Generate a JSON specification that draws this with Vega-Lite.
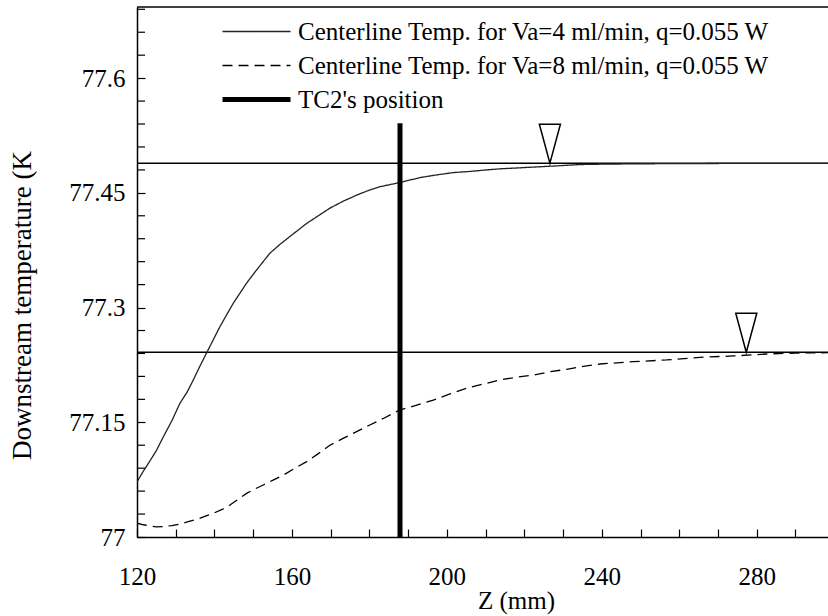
{
  "$schema": "https://vega.github.io/schema/vega-lite/v6.json",
  "autosize": "none",
  "padding": {"left": 137, "top": 7, "right": 0, "bottom": 79},
  "width": 691,
  "height": 530,
  "background": "white",
  "config": {"view": {"stroke": null}, "font": "Liberation Serif"},
  "datasets": {
    "curves": [
      {"z": 120, "T": 77.072, "series": "Centerline Temp. for Va=4 ml/min, q=0.055 W"},
      {"z": 121.5, "T": 77.085, "series": "Centerline Temp. for Va=4 ml/min, q=0.055 W"},
      {"z": 123.4, "T": 77.1, "series": "Centerline Temp. for Va=4 ml/min, q=0.055 W"},
      {"z": 125, "T": 77.113, "series": "Centerline Temp. for Va=4 ml/min, q=0.055 W"},
      {"z": 126.8, "T": 77.131, "series": "Centerline Temp. for Va=4 ml/min, q=0.055 W"},
      {"z": 129, "T": 77.152, "series": "Centerline Temp. for Va=4 ml/min, q=0.055 W"},
      {"z": 131.1, "T": 77.175, "series": "Centerline Temp. for Va=4 ml/min, q=0.055 W"},
      {"z": 133, "T": 77.19, "series": "Centerline Temp. for Va=4 ml/min, q=0.055 W"},
      {"z": 134.5, "T": 77.205, "series": "Centerline Temp. for Va=4 ml/min, q=0.055 W"},
      {"z": 136.3, "T": 77.224, "series": "Centerline Temp. for Va=4 ml/min, q=0.055 W"},
      {"z": 138, "T": 77.241, "series": "Centerline Temp. for Va=4 ml/min, q=0.055 W"},
      {"z": 139.7, "T": 77.258, "series": "Centerline Temp. for Va=4 ml/min, q=0.055 W"},
      {"z": 141.4, "T": 77.275, "series": "Centerline Temp. for Va=4 ml/min, q=0.055 W"},
      {"z": 143.2, "T": 77.291, "series": "Centerline Temp. for Va=4 ml/min, q=0.055 W"},
      {"z": 144.9, "T": 77.306, "series": "Centerline Temp. for Va=4 ml/min, q=0.055 W"},
      {"z": 146.6, "T": 77.319, "series": "Centerline Temp. for Va=4 ml/min, q=0.055 W"},
      {"z": 148.3, "T": 77.332, "series": "Centerline Temp. for Va=4 ml/min, q=0.055 W"},
      {"z": 151.3, "T": 77.352, "series": "Centerline Temp. for Va=4 ml/min, q=0.055 W"},
      {"z": 154.3, "T": 77.371, "series": "Centerline Temp. for Va=4 ml/min, q=0.055 W"},
      {"z": 157, "T": 77.383, "series": "Centerline Temp. for Va=4 ml/min, q=0.055 W"},
      {"z": 159.5, "T": 77.393, "series": "Centerline Temp. for Va=4 ml/min, q=0.055 W"},
      {"z": 163.8, "T": 77.41, "series": "Centerline Temp. for Va=4 ml/min, q=0.055 W"},
      {"z": 166.8, "T": 77.42, "series": "Centerline Temp. for Va=4 ml/min, q=0.055 W"},
      {"z": 169.8, "T": 77.43, "series": "Centerline Temp. for Va=4 ml/min, q=0.055 W"},
      {"z": 173.2, "T": 77.439, "series": "Centerline Temp. for Va=4 ml/min, q=0.055 W"},
      {"z": 176.7, "T": 77.447, "series": "Centerline Temp. for Va=4 ml/min, q=0.055 W"},
      {"z": 179.7, "T": 77.453, "series": "Centerline Temp. for Va=4 ml/min, q=0.055 W"},
      {"z": 182.7, "T": 77.458, "series": "Centerline Temp. for Va=4 ml/min, q=0.055 W"},
      {"z": 187.9, "T": 77.4635, "series": "Centerline Temp. for Va=4 ml/min, q=0.055 W"},
      {"z": 193.1, "T": 77.47, "series": "Centerline Temp. for Va=4 ml/min, q=0.055 W"},
      {"z": 197.4, "T": 77.4735, "series": "Centerline Temp. for Va=4 ml/min, q=0.055 W"},
      {"z": 201.7, "T": 77.4765, "series": "Centerline Temp. for Va=4 ml/min, q=0.055 W"},
      {"z": 206, "T": 77.478, "series": "Centerline Temp. for Va=4 ml/min, q=0.055 W"},
      {"z": 210.3, "T": 77.48, "series": "Centerline Temp. for Va=4 ml/min, q=0.055 W"},
      {"z": 214, "T": 77.4815, "series": "Centerline Temp. for Va=4 ml/min, q=0.055 W"},
      {"z": 218, "T": 77.4825, "series": "Centerline Temp. for Va=4 ml/min, q=0.055 W"},
      {"z": 223.6, "T": 77.484, "series": "Centerline Temp. for Va=4 ml/min, q=0.055 W"},
      {"z": 229.2, "T": 77.4855, "series": "Centerline Temp. for Va=4 ml/min, q=0.055 W"},
      {"z": 234.4, "T": 77.487, "series": "Centerline Temp. for Va=4 ml/min, q=0.055 W"},
      {"z": 240, "T": 77.4875, "series": "Centerline Temp. for Va=4 ml/min, q=0.055 W"},
      {"z": 250, "T": 77.488, "series": "Centerline Temp. for Va=4 ml/min, q=0.055 W"},
      {"z": 260, "T": 77.4882, "series": "Centerline Temp. for Va=4 ml/min, q=0.055 W"},
      {"z": 270, "T": 77.4884, "series": "Centerline Temp. for Va=4 ml/min, q=0.055 W"},
      {"z": 280, "T": 77.4885, "series": "Centerline Temp. for Va=4 ml/min, q=0.055 W"},
      {"z": 290, "T": 77.4886, "series": "Centerline Temp. for Va=4 ml/min, q=0.055 W"},
      {"z": 298.4, "T": 77.4886, "series": "Centerline Temp. for Va=4 ml/min, q=0.055 W"},
      {"z": 120, "T": 77.018, "series": "Centerline Temp. for Va=8 ml/min, q=0.055 W"},
      {"z": 121.7, "T": 77.016, "series": "Centerline Temp. for Va=8 ml/min, q=0.055 W"},
      {"z": 123.4, "T": 77.0144, "series": "Centerline Temp. for Va=8 ml/min, q=0.055 W"},
      {"z": 125, "T": 77.0132, "series": "Centerline Temp. for Va=8 ml/min, q=0.055 W"},
      {"z": 126.8, "T": 77.0135, "series": "Centerline Temp. for Va=8 ml/min, q=0.055 W"},
      {"z": 129, "T": 77.015, "series": "Centerline Temp. for Va=8 ml/min, q=0.055 W"},
      {"z": 131.1, "T": 77.017, "series": "Centerline Temp. for Va=8 ml/min, q=0.055 W"},
      {"z": 133.2, "T": 77.02, "series": "Centerline Temp. for Va=8 ml/min, q=0.055 W"},
      {"z": 135.4, "T": 77.023, "series": "Centerline Temp. for Va=8 ml/min, q=0.055 W"},
      {"z": 137.5, "T": 77.027, "series": "Centerline Temp. for Va=8 ml/min, q=0.055 W"},
      {"z": 139.7, "T": 77.031, "series": "Centerline Temp. for Va=8 ml/min, q=0.055 W"},
      {"z": 142, "T": 77.036, "series": "Centerline Temp. for Va=8 ml/min, q=0.055 W"},
      {"z": 144, "T": 77.0418, "series": "Centerline Temp. for Va=8 ml/min, q=0.055 W"},
      {"z": 146, "T": 77.049, "series": "Centerline Temp. for Va=8 ml/min, q=0.055 W"},
      {"z": 148.3, "T": 77.057, "series": "Centerline Temp. for Va=8 ml/min, q=0.055 W"},
      {"z": 150.5, "T": 77.063, "series": "Centerline Temp. for Va=8 ml/min, q=0.055 W"},
      {"z": 152.6, "T": 77.068, "series": "Centerline Temp. for Va=8 ml/min, q=0.055 W"},
      {"z": 155, "T": 77.074, "series": "Centerline Temp. for Va=8 ml/min, q=0.055 W"},
      {"z": 157.8, "T": 77.081, "series": "Centerline Temp. for Va=8 ml/min, q=0.055 W"},
      {"z": 160.8, "T": 77.09, "series": "Centerline Temp. for Va=8 ml/min, q=0.055 W"},
      {"z": 163.8, "T": 77.0985, "series": "Centerline Temp. for Va=8 ml/min, q=0.055 W"},
      {"z": 166.8, "T": 77.109, "series": "Centerline Temp. for Va=8 ml/min, q=0.055 W"},
      {"z": 169.8, "T": 77.12, "series": "Centerline Temp. for Va=8 ml/min, q=0.055 W"},
      {"z": 173.2, "T": 77.129, "series": "Centerline Temp. for Va=8 ml/min, q=0.055 W"},
      {"z": 176.7, "T": 77.1377, "series": "Centerline Temp. for Va=8 ml/min, q=0.055 W"},
      {"z": 180.1, "T": 77.1465, "series": "Centerline Temp. for Va=8 ml/min, q=0.055 W"},
      {"z": 183.6, "T": 77.155, "series": "Centerline Temp. for Va=8 ml/min, q=0.055 W"},
      {"z": 187.8, "T": 77.166, "series": "Centerline Temp. for Va=8 ml/min, q=0.055 W"},
      {"z": 192, "T": 77.172, "series": "Centerline Temp. for Va=8 ml/min, q=0.055 W"},
      {"z": 196.5, "T": 77.179, "series": "Centerline Temp. for Va=8 ml/min, q=0.055 W"},
      {"z": 200.8, "T": 77.187, "series": "Centerline Temp. for Va=8 ml/min, q=0.055 W"},
      {"z": 205.1, "T": 77.1945, "series": "Centerline Temp. for Va=8 ml/min, q=0.055 W"},
      {"z": 209.4, "T": 77.2, "series": "Centerline Temp. for Va=8 ml/min, q=0.055 W"},
      {"z": 213.7, "T": 77.2053, "series": "Centerline Temp. for Va=8 ml/min, q=0.055 W"},
      {"z": 218, "T": 77.209, "series": "Centerline Temp. for Va=8 ml/min, q=0.055 W"},
      {"z": 222.4, "T": 77.2118, "series": "Centerline Temp. for Va=8 ml/min, q=0.055 W"},
      {"z": 226.6, "T": 77.216, "series": "Centerline Temp. for Va=8 ml/min, q=0.055 W"},
      {"z": 230.9, "T": 77.2193, "series": "Centerline Temp. for Va=8 ml/min, q=0.055 W"},
      {"z": 235.2, "T": 77.223, "series": "Centerline Temp. for Va=8 ml/min, q=0.055 W"},
      {"z": 239.5, "T": 77.2262, "series": "Centerline Temp. for Va=8 ml/min, q=0.055 W"},
      {"z": 248.1, "T": 77.2292, "series": "Centerline Temp. for Va=8 ml/min, q=0.055 W"},
      {"z": 256.7, "T": 77.2315, "series": "Centerline Temp. for Va=8 ml/min, q=0.055 W"},
      {"z": 265.4, "T": 77.235, "series": "Centerline Temp. for Va=8 ml/min, q=0.055 W"},
      {"z": 274, "T": 77.2367, "series": "Centerline Temp. for Va=8 ml/min, q=0.055 W"},
      {"z": 282.6, "T": 77.2393, "series": "Centerline Temp. for Va=8 ml/min, q=0.055 W"},
      {"z": 290, "T": 77.2405, "series": "Centerline Temp. for Va=8 ml/min, q=0.055 W"},
      {"z": 298.4, "T": 77.241, "series": "Centerline Temp. for Va=8 ml/min, q=0.055 W"},
      {"z": 187.9, "T": 77.0, "series": "TC2's position"},
      {"z": 187.9, "T": 77.541, "series": "TC2's position"}
    ],
    "refs": [{"T": 77.4887}, {"T": 77.2415}],
    "marks": [{"z": 226.6, "T": 77.4887}, {"z": 277.3, "T": 77.2415}],
    "yminor": [
      {"T": 77.03}, {"T": 77.06}, {"T": 77.09}, {"T": 77.12}, {"T": 77.18}, {"T": 77.21}, {"T": 77.24}, {"T": 77.27},
      {"T": 77.33}, {"T": 77.36}, {"T": 77.39}, {"T": 77.42}, {"T": 77.48}, {"T": 77.51}, {"T": 77.54}, {"T": 77.57},
      {"T": 77.63}, {"T": 77.66}, {"T": 77.69}
    ]
  },
  "layer": [
    {
      "data": {"values": [{"T": 77.693}]},
      "mark": {"type": "rule", "color": "#000", "strokeWidth": 1.5},
      "encoding": {"y": {"field": "T", "type": "quantitative"}}
    },
    {
      "data": {"name": "yminor"},
      "mark": {"type": "rule", "color": "#000", "strokeWidth": 1.2},
      "encoding": {
        "y": {"field": "T", "type": "quantitative"},
        "x": {"datum": 120, "type": "quantitative"},
        "x2": {"datum": 122.07}
      }
    },
    {
      "data": {"name": "refs"},
      "mark": {"type": "rule", "color": "#000", "strokeWidth": 1.5},
      "encoding": {"y": {"field": "T", "type": "quantitative"}}
    },
    {
      "data": {"name": "curves"},
      "mark": {"type": "line", "strokeCap": "butt", "clip": true},
      "encoding": {
        "x": {
          "field": "z", "type": "quantitative",
          "scale": {"domain": [120, 298.4], "nice": false, "zero": false},
          "axis": {
            "title": "Z (mm)", "titleFont": "Liberation Serif", "titleFontSize": 25, "titleFontWeight": "normal", "titleColor": "#000",
            "titleX": 379, "titleY": 71, "titleAlign": "center", "titleBaseline": "alphabetic",
            "values": [120,130,140,150,160,170,180,190,200,210,220,230,240,250,260,270,280,290],
            "labelExpr": "(datum.value - 120) % 40 == 0 ? format(datum.value, 'd') : ''",
            "labelFont": "Liberation Serif", "labelFontSize": 25, "labelColor": "#000", "labelOverlap": false, "labelFlush": false,
            "labelBaseline": "alphabetic", "labelPadding": 55,
            "tickSize": -8, "tickColor": "#000", "tickWidth": 1.2,
            "domainColor": "#000", "domainWidth": 1.5, "grid": false
          }
        },
        "y": {
          "field": "T", "type": "quantitative",
          "scale": {"domain": [77, 77.693], "nice": false, "zero": false},
          "axis": {
            "title": "Downstream temperature (K", "titleFont": "Liberation Serif", "titleFontSize": 27, "titleFontWeight": "normal", "titleColor": "#000",
            "titleX": -107, "titleY": 298, "titleAngle": -90, "titleAlign": "center", "titleBaseline": "alphabetic",
            "values": [77, 77.15, 77.3, 77.45, 77.6],
            "labelExpr": "format(datum.value, '.2~f')",
            "labelFont": "Liberation Serif", "labelFontSize": 25, "labelColor": "#000", "labelOverlap": false, "labelFlush": false,
            "labelPadding": 20,
            "tickSize": -8, "tickColor": "#000", "tickWidth": 1.2,
            "domainColor": "#000", "domainWidth": 1.5, "grid": false
          }
        },
        "color": {
          "field": "series", "type": "nominal",
          "scale": {"domain": ["Centerline Temp. for Va=4 ml/min, q=0.055 W", "Centerline Temp. for Va=8 ml/min, q=0.055 W", "TC2's position"], "range": ["#222222", "#000000", "#000000"]},
          "legend": {
            "orient": "none", "legendX": 107, "legendY": 12, "title": null, "padding": 0,
            "symbolType": "stroke", "symbolSize": 4624, "labelFont": "Liberation Serif", "labelFontSize": 25, "labelColor": "#000",
            "labelOffset": 29, "labelLimit": 0, "rowPadding": 8,
            "encode": {"symbols": {"update": {"strokeWidth": {"signal": "datum.value === \"TC2's position\" ? 5 : 1.5"}}}}
          }
        },
        "strokeDash": {
          "field": "series", "type": "nominal",
          "scale": {"domain": ["Centerline Temp. for Va=4 ml/min, q=0.055 W", "Centerline Temp. for Va=8 ml/min, q=0.055 W", "TC2's position"], "range": [[1, 0], [10, 6], [1, 0]]}
        },
        "strokeWidth": {
          "condition": {"test": "datum.series === \"TC2's position\"", "value": 5},
          "value": 1.3
        }
      }
    },
    {
      "data": {"name": "marks"},
      "mark": {"type": "point", "shape": "M-0.27,-1L0.27,-1L0,0Z", "size": 6084, "filled": true, "fill": "white", "stroke": "#000", "strokeWidth": 1.5, "opacity": 1},
      "encoding": {
        "x": {"field": "z", "type": "quantitative"},
        "y": {"field": "T", "type": "quantitative"}
      }
    }
  ]
}
